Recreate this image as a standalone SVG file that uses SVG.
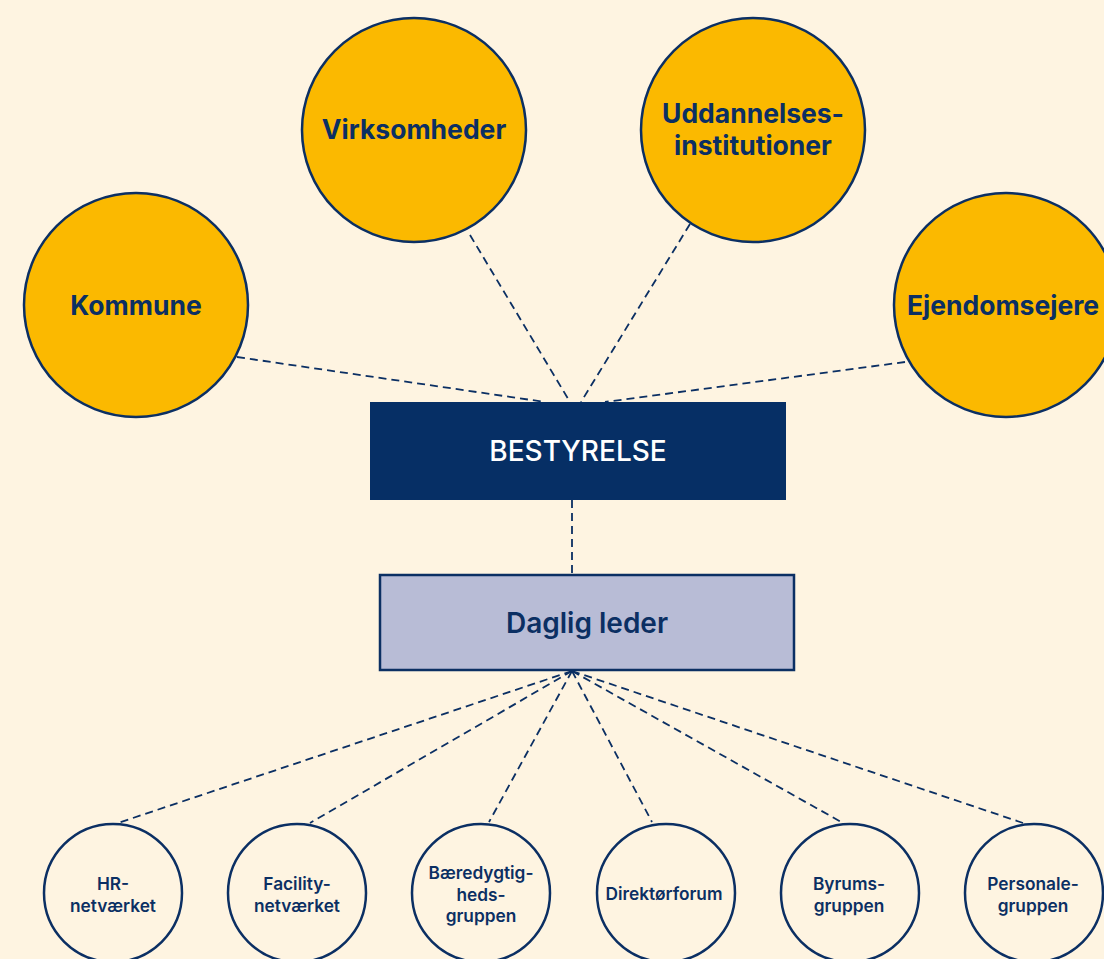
<svg xmlns="http://www.w3.org/2000/svg" width="1104" height="959" viewBox="0 0 1104 959">
<style>
.bg{fill:#FEF4E1}
.conn{stroke:#0B2F63;stroke-width:1.8;stroke-dasharray:8 5;fill:none}
.big{fill:#FBB900;stroke:#0B2F63;stroke-width:2.5}
.small{fill:#FEF4E1;stroke:#0B2F63;stroke-width:2.5}
.tbig{font-family:Inter,"Liberation Sans",sans-serif;font-weight:700;font-size:26.5px;fill:#0B2F63;text-anchor:middle}
.tsmall{font-family:Inter,"Liberation Sans",sans-serif;font-weight:600;font-size:17.3px;fill:#0B2F63;text-anchor:middle}
.tbox{font-family:Inter,"Liberation Sans",sans-serif;font-size:28px;text-anchor:middle}
</style>
<rect class="bg" x="0" y="0" width="1104" height="959"/>
<g id="connectors">
<line class="conn" x1="237" y1="357" x2="545" y2="402"/>
<line class="conn" x1="470" y1="235" x2="570" y2="402"/>
<line class="conn" x1="690" y1="224" x2="581" y2="402"/>
<line class="conn" x1="905" y1="362" x2="605" y2="402"/>
<line class="conn" x1="572" y1="500" x2="572" y2="574"/>
<line class="conn" x1="572" y1="671" x2="118" y2="823"/>
<line class="conn" x1="572" y1="671" x2="310" y2="823"/>
<line class="conn" x1="572" y1="671" x2="489" y2="822"/>
<line class="conn" x1="572" y1="671" x2="652" y2="822"/>
<line class="conn" x1="572" y1="671" x2="843" y2="823"/>
<line class="conn" x1="572" y1="671" x2="1023" y2="823"/>
</g>
<g id="kommune">
<circle class="big" cx="136" cy="305" r="112"/>
<text class="tbig" x="136" y="315">Kommune</text>
</g>
<g id="virksomheder">
<circle class="big" cx="414" cy="130" r="112"/>
<text class="tbig" x="414" y="139">Virksomheder</text>
</g>
<g id="uddannelsesinstitutioner">
<circle class="big" cx="753" cy="130" r="112"/>
<text class="tbig" x="753" y="123">Uddannelses-</text>
<text class="tbig" x="753" y="155">institutioner</text>
</g>
<g id="ejendomsejere">
<circle class="big" cx="1006" cy="305" r="112"/>
<text class="tbig" x="1003" y="315">Ejendomsejere</text>
</g>
<g id="bestyrelse">
<rect x="370" y="402" width="416" height="98" fill="#062F65"/>
<text class="tbox" x="578" y="461" fill="#FFFFFF" font-weight="500">BESTYRELSE</text>
</g>
<g id="daglig-leder">
<rect x="380" y="575" width="414" height="95" fill="#B8BCD6" stroke="#0B2F63" stroke-width="2.5"/>
<text class="tbox" x="587" y="633" fill="#0B2F63" font-weight="600">Daglig leder</text>
</g>
<g id="hr">
<circle class="small" cx="113" cy="893" r="69"/>
<text class="tsmall" x="113" y="890">HR-</text>
<text class="tsmall" x="113" y="912">netværket</text>
</g>
<g id="facility">
<circle class="small" cx="297" cy="893" r="69"/>
<text class="tsmall" x="297" y="890">Facility-</text>
<text class="tsmall" x="297" y="912">netværket</text>
</g>
<g id="baeredygtighed">
<circle class="small" cx="481" cy="893" r="69"/>
<text class="tsmall" x="481" y="879">Bæredygtig-</text>
<text class="tsmall" x="481" y="901">heds-</text>
<text class="tsmall" x="481" y="922">gruppen</text>
</g>
<g id="direktoerforum">
<circle class="small" cx="666" cy="893" r="69"/>
<text class="tsmall" x="664" y="900">Direktørforum</text>
</g>
<g id="byrum">
<circle class="small" cx="850" cy="893" r="69"/>
<text class="tsmall" x="849" y="890">Byrums-</text>
<text class="tsmall" x="849" y="912">gruppen</text>
</g>
<g id="personale">
<circle class="small" cx="1034" cy="893" r="69"/>
<text class="tsmall" x="1033" y="890">Personale-</text>
<text class="tsmall" x="1033" y="912">gruppen</text>
</g>
</svg>
